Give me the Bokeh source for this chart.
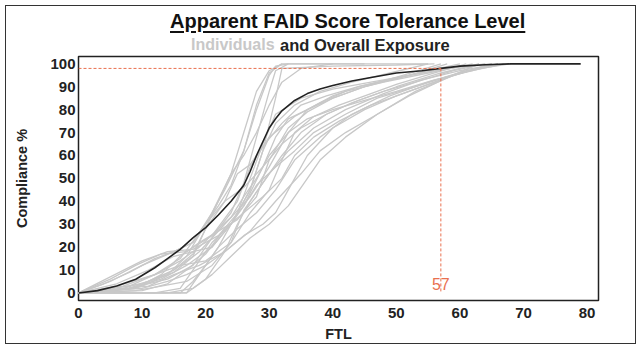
from bokeh.plotting import figure
from bokeh.models import Range1d, Label, FixedTicker, Div
from bokeh.layouts import column
from bokeh.embed import file_html
from bokeh.resources import INLINE

# ---------------- data ----------------
x_ticks = [0, 10, 20, 30, 40, 50, 60, 70, 80]
y_ticks = [0, 10, 20, 30, 40, 50, 60, 70, 80, 90, 100]

overall_x = [0, 3, 6, 9, 12, 14, 16, 18, 20, 22, 24, 26, 27, 28, 29, 30, 31, 32, 34, 36, 38, 40, 43, 46, 50, 54, 57, 60, 64, 68, 79]
overall_y = [0, 1, 3, 6, 11, 15, 19, 24, 28.5, 34, 40, 47, 53, 60, 66, 72, 76, 79.5, 84, 87, 89, 90.5, 92.5, 94, 96, 97, 98, 99, 99.6, 100, 100]

ind_x = [
    [0, 5, 10, 15, 18, 21, 24, 26, 28, 30, 32, 40, 55],
    [0, 6, 12, 16, 20, 23, 26, 28, 30, 31, 33, 45],
    [0, 10, 17, 19, 22, 25, 27, 29, 31, 35, 40, 46, 52, 58, 64],
    [0, 8, 14, 18, 20, 22, 24, 26, 28, 30, 33, 36, 40, 45, 50, 56, 62, 66],
    [0, 5, 9, 13, 17, 21, 25, 27, 30, 34, 38, 42, 48, 55, 62],
    [0, 12, 16, 18, 21, 24, 26, 28, 31, 34, 37, 42, 47, 53, 60, 67],
    [0, 4, 8, 12, 15, 18, 20, 22, 24, 26, 28, 30, 32],
    [0, 7, 11, 15, 19, 23, 27, 30, 33, 36, 40, 44, 49, 55, 60],
    [0, 6, 10, 14, 17, 20, 23, 26, 29, 32, 35, 39, 44, 50, 57, 63],
    [0, 10, 14, 17, 20, 23, 26, 29, 32, 34, 37, 41, 46, 52, 58, 65],
    [0, 9, 13, 16, 19, 22, 25, 28, 30, 33, 36, 40, 45, 51, 57],
    [0, 8, 12, 16, 20, 24, 27, 30, 32, 34, 37, 41, 46, 50, 56, 61],
    [0, 10, 15, 18, 20, 22, 24, 26, 28, 30, 32, 35, 40],
    [0, 12, 16, 18, 20, 22, 25, 28, 31, 34, 38, 43, 49, 55, 61, 68],
    [0, 5, 10, 14, 18, 22, 26, 29, 31, 33, 36, 40, 45, 52, 58],
    [0, 11, 15, 19, 23, 26, 29, 31, 33, 36, 40, 45, 50, 55, 60, 66],
    [0, 7, 12, 16, 19, 22, 24, 26, 28, 30, 31, 33],
    [0, 9, 13, 17, 21, 24, 26, 29, 32, 35, 39, 43, 48, 53, 59, 64],
    [0, 13, 17, 20, 23, 25, 27, 30, 33, 37, 42, 48, 54, 60, 66],
    [0, 6, 11, 15, 18, 21, 24, 27, 29, 31, 34, 38, 43, 49, 55],
    [0, 8, 12, 15, 18, 20, 23, 25, 27, 29, 32, 35, 39, 44, 50, 58, 65],
    [0, 10, 14, 17, 20, 23, 27, 31, 35, 38, 42, 47, 52, 58, 63],
    [0, 8, 13, 17, 21, 24, 27, 29, 31, 32, 40, 50, 56],
    [0, 14, 18, 21, 24, 27, 30, 33, 35, 38, 42, 47, 53, 59, 65],
]
ind_y = [
    [0, 5, 12, 18, 22, 35, 52, 70, 88, 97, 100, 100, 100],
    [0, 3, 8, 15, 30, 45, 62, 80, 95, 99, 100, 100],
    [0, 0, 0, 8, 20, 35, 50, 65, 78, 85, 89, 92, 95, 98, 100],
    [0, 2, 6, 12, 20, 28, 33, 42, 50, 60, 70, 76, 80, 84, 88, 93, 97, 100],
    [0, 6, 12, 17, 18, 25, 40, 55, 68, 77, 83, 88, 92, 96, 100],
    [0, 0, 2, 10, 22, 30, 38, 47, 55, 62, 70, 78, 85, 90, 96, 100],
    [0, 4, 9, 15, 18, 22, 30, 38, 47, 62, 82, 96, 100],
    [0, 2, 5, 9, 18, 30, 42, 55, 70, 80, 86, 90, 93, 97, 100],
    [0, 1, 3, 8, 16, 30, 40, 46, 55, 65, 72, 78, 84, 90, 96, 100],
    [0, 1, 4, 10, 17, 28, 35, 42, 50, 60, 68, 75, 82, 88, 94, 100],
    [0, 2, 8, 16, 22, 27, 32, 42, 58, 72, 79, 85, 90, 95, 100],
    [0, 3, 8, 12, 14, 22, 35, 45, 58, 70, 77, 82, 87, 91, 96, 100],
    [0, 4, 10, 16, 28, 40, 52, 60, 70, 82, 92, 98, 100],
    [0, 0, 0, 5, 12, 20, 28, 35, 45, 58, 68, 78, 86, 92, 97, 100],
    [0, 7, 14, 18, 19, 25, 38, 55, 68, 76, 80, 85, 90, 95, 100],
    [0, 3, 8, 12, 18, 25, 30, 35, 45, 60, 72, 80, 86, 91, 96, 100],
    [0, 3, 8, 14, 20, 28, 35, 48, 68, 88, 97, 100],
    [0, 1, 3, 5, 12, 22, 36, 48, 60, 70, 78, 83, 88, 92, 97, 100],
    [0, 0, 0, 6, 18, 30, 40, 52, 62, 72, 80, 87, 93, 97, 100],
    [0, 4, 10, 16, 18, 20, 30, 45, 62, 74, 82, 88, 92, 96, 100],
    [0, 2, 6, 10, 17, 28, 40, 52, 56, 64, 74, 82, 86, 90, 94, 98, 100],
    [0, 2, 5, 8, 12, 18, 27, 40, 52, 62, 70, 78, 86, 94, 100],
    [0, 2, 6, 12, 20, 30, 45, 62, 85, 98, 99, 99.5, 100],
    [0, 0, 2, 8, 16, 24, 30, 38, 46, 58, 68, 78, 88, 95, 100],
]

target_ftl = 57
target_compliance = 98

title_text = "Apparent FAID Score Tolerance Level"
subtitle_gray = "Individuals"
subtitle_black = "and Overall Exposure"
x_label = "FTL"
y_label = "Compliance %"

FONT = "Liberation Sans"
RED = "#e9704f"

# ---------------- header (title + two-coloured subtitle) ----------------
header_html = (
    '<div style="position:relative;width:641px;height:52px;font-family:\'Liberation Sans\';'
    'font-weight:bold;line-height:1;">'
    '<span style="position:absolute;left:170px;top:11px;font-size:20px;color:#111;'
    'white-space:nowrap;text-decoration:underline;text-underline-offset:3px;'
    'text-decoration-thickness:2px;">' + title_text + '</span>'
    '<span style="position:absolute;left:191px;top:37px;font-size:16px;color:#c8c8c8;'
    'white-space:nowrap;">' + subtitle_gray + '</span>'
    '<span style="position:absolute;left:280px;top:37px;font-size:16.5px;color:#222;'
    'white-space:nowrap;">' + subtitle_black + '</span>'
    '</div>'
)
header = Div(text=header_html, width=641, height=52, margin=0)

# ---------------- figure ----------------
p = figure(width=641, height=297, output_backend="svg", toolbar_location=None,
           x_range=Range1d(0, 81.8), y_range=Range1d(-3.3, 103.2),
           min_border_left=78, min_border_right=43, min_border_top=4, min_border_bottom=49,
           margin=0)
p.background_fill_color = "white"
p.border_fill_color = None
p.outline_line_color = "#222222"
p.outline_line_width = 1.5
p.xgrid.visible = False
p.ygrid.visible = False

for ax in (p.xaxis[0], p.yaxis[0]):
    ax.axis_line_color = None
    ax.major_tick_out = 0
    ax.major_tick_in = 0
    ax.minor_tick_out = 0
    ax.minor_tick_in = 0
    ax.major_label_text_font = FONT
    ax.major_label_text_font_style = "bold"
    ax.major_label_text_font_size = "15px"
    ax.major_label_text_color = "#222222"
    ax.axis_label_text_font = FONT
    ax.axis_label_text_font_style = "bold"
    ax.axis_label_text_font_size = "14.5px"
    ax.axis_label_text_color = "#222222"

p.xaxis.ticker = FixedTicker(ticks=x_ticks)
p.yaxis.ticker = FixedTicker(ticks=y_ticks)
p.xaxis.axis_label = x_label
p.yaxis.axis_label = y_label
p.xaxis.major_label_standoff = 7
p.xaxis.axis_label_standoff = 5
p.yaxis.major_label_standoff = 3
p.yaxis.axis_label_standoff = 17

# individual curves
p.multi_line(xs=ind_x, ys=ind_y, line_color="#c8c8c8", line_width=1.3)

# overall curve
p.line(overall_x, overall_y, line_color="#222222", line_width=1.6)

# target dashed lines
p.line([0, target_ftl], [target_compliance, target_compliance], line_color=RED,
       line_dash="3 2", line_width=1)
p.line([target_ftl, target_ftl], [target_compliance, 0], line_color=RED,
       line_dash="3 2", line_width=1)
p.add_layout(Label(x=target_ftl, y=3.9, text=str(target_ftl), text_align="center",
                   text_baseline="middle", text_font=FONT, text_font_size="16px",
                   text_color=RED))

layout = column(header, p, spacing=0, margin=0,
                stylesheets=[":host { outline: 1.5px solid #333; outline-offset: -6.5px; background: white; }"])

open("out.html", "w").write(file_html(layout, INLINE))
